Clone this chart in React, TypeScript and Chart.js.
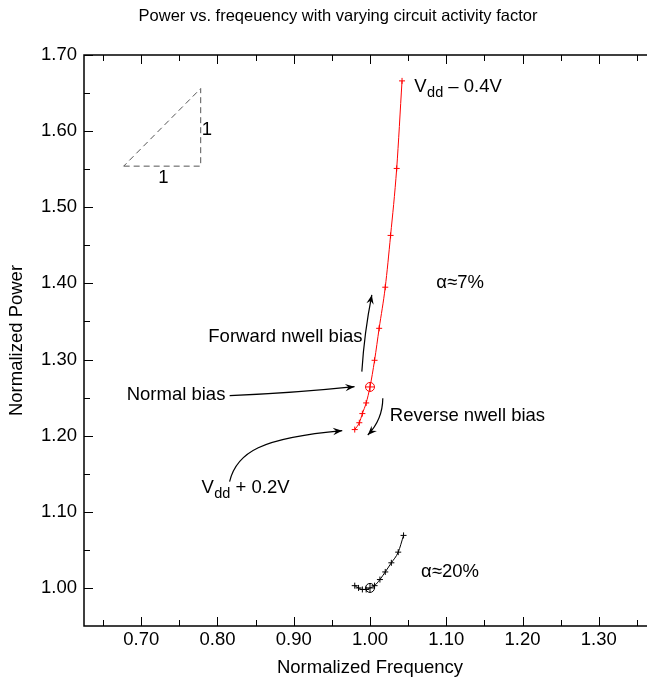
import React, { useEffect, useRef } from "react";
import { Chart, registerables } from "chart.js";

Chart.register(...registerables);

// ---------- text ----------
const chartTitle = "Power vs. freqeuency with varying circuit activity factor";
const xAxisTitle = "Normalized Frequency";
const yAxisTitle = "Normalized Power";

// ---------- axes ----------
const xRange = [0.625, 1.375];
const yRange = [0.95, 1.7];
const xTicks = [0.7, 0.8, 0.9, 1.0, 1.1, 1.2, 1.3];
const xMinorTicks = [0.65, 0.75, 0.85, 0.95, 1.05, 1.15, 1.25, 1.35];
const yTicks = [1.0, 1.1, 1.2, 1.3, 1.4, 1.5, 1.6, 1.7];
const yMinorTicks = [1.05, 1.15, 1.25, 1.35, 1.45, 1.55, 1.65];

// ---------- series: activity factor ~7% (red) ----------
const freqA7 = [0.980, 0.986, 0.990, 0.995, 1.000, 1.006, 1.012, 1.020, 1.027, 1.035, 1.042];
const powerA7 = [1.208, 1.217, 1.229, 1.243, 1.264, 1.299, 1.341, 1.395, 1.463, 1.551, 1.666];

// ---------- series: activity factor ~20% (black) ----------
const freqA20 = [0.980, 0.985, 0.990, 0.995, 1.000, 1.006, 1.013, 1.020, 1.028, 1.037, 1.044];
const powerA20 = [1.003, 1.000, 0.998, 0.998, 1.000, 1.003, 1.011, 1.021, 1.033, 1.047, 1.069];

const normalBiasIndex = 4;

// ---------- 1:1 slope triangle ----------
const triX = [0.677, 0.778, 0.778, 0.677];
const triY = [1.554, 1.554, 1.656, 1.554];

// ---------- annotations (data coordinates) ----------
const notes = [
  { text: "Forward nwell bias", x: 0.788, y: 1.330, align: "left" },
  { text: "Normal bias", x: 0.681, y: 1.2535, align: "left" },
  { text: "Reverse nwell bias", x: 1.026, y: 1.226, align: "left" },
  { text: "α≈7%", x: 1.087, y: 1.400, align: "left" },
  { text: "α≈20%", x: 1.067, y: 1.021, align: "left" },
  { text: "1", x: 0.729, y: 1.539, align: "center" },
  { text: "1", x: 0.786, y: 1.602, align: "center" },
];
const vddNotes = [
  { main: "V", sub: "dd", rest: " \u2013 0.4V", x: 1.058, y: 1.658 },
  { main: "V", sub: "dd", rest: " + 0.2V", x: 0.779, y: 1.131 },
];
// arrows: start, control(s), end
const arrows = [
  { pts: [[0.816, 1.2526], [0.90, 1.256], [0.9797, 1.2644]] },
  { pts: [[0.9893, 1.2841], [0.9925, 1.335], [1.0024, 1.3848]] },
  { pts: [[1.0168, 1.2491], [1.0165, 1.221], [0.9971, 1.2009]] },
  { pts: [[0.8159, 1.1396], [0.825, 1.1786], [0.8578, 1.197], [0.9636, 1.2066]] },
];

const FONT = "'Liberation Sans', Arial, Helvetica, sans-serif";

export default function App() {
  const ref = useRef<HTMLCanvasElement>(null);

  useEffect(() => {
    const canvas = ref.current;
    if (!canvas) return;

    const decorPlugin = {
      id: "decor",
      afterDraw(chart: any) {
        const { ctx, chartArea: a } = chart;
        const sx = chart.scales.x;
        const sy = chart.scales.y;
        const X = (v: number) => sx.getPixelForValue(v);
        const Y = (v: number) => sy.getPixelForValue(v);
        ctx.save();

        // frame
        ctx.strokeStyle = "#000";
        ctx.lineWidth = 1.5;
        ctx.strokeRect(a.left, a.top, a.right - a.left, a.bottom - a.top);

        // inward ticks
        ctx.lineWidth = 1;
        ctx.beginPath();
        const tickX = (v: number, len: number) => {
          const p = Math.round(X(v)) + 0.5;
          ctx.moveTo(p, a.bottom); ctx.lineTo(p, a.bottom - len);
          ctx.moveTo(p, a.top); ctx.lineTo(p, a.top + len);
        };
        const tickY = (v: number, len: number) => {
          const p = Math.round(Y(v)) + 0.5;
          ctx.moveTo(a.left, p); ctx.lineTo(a.left + len, p);
          ctx.moveTo(a.right, p); ctx.lineTo(a.right - len, p);
        };
        xTicks.forEach((v) => tickX(v, 9));
        xMinorTicks.forEach((v) => tickX(v, 6));
        yTicks.forEach((v) => tickY(v, 9));
        yMinorTicks.forEach((v) => tickY(v, 6));
        ctx.stroke();

        // titles
        ctx.fillStyle = "#000";
        ctx.textBaseline = "middle";
        ctx.textAlign = "center";
        ctx.font = `16.5px ${FONT}`;
        ctx.fillText(chartTitle, 338, 16);
        ctx.font = `18.5px ${FONT}`;
        ctx.fillText(xAxisTitle, (a.left + a.right) / 2, 668);
        ctx.save();
        ctx.translate(17, (a.top + a.bottom) / 2);
        ctx.rotate(-Math.PI / 2);
        ctx.fillText(yAxisTitle, 0, 0);
        ctx.restore();

        // annotations
        notes.forEach((n) => {
          ctx.textAlign = n.align as CanvasTextAlign;
          ctx.font = `18.5px ${FONT}`;
          ctx.fillText(n.text, X(n.x), Y(n.y));
        });
        vddNotes.forEach((n) => {
          ctx.textAlign = "left";
          let x = X(n.x);
          const y = Y(n.y);
          ctx.font = `18.5px ${FONT}`;
          ctx.fillText(n.main, x, y);
          x += ctx.measureText(n.main).width + 0.5;
          ctx.font = `14.5px ${FONT}`;
          ctx.fillText(n.sub, x, y + 6);
          x += ctx.measureText(n.sub).width;
          ctx.font = `18.5px ${FONT}`;
          ctx.fillText(n.rest, x, y);
        });

        // arrows
        ctx.strokeStyle = "#000";
        ctx.lineWidth = 1.2;
        arrows.forEach((ar) => {
          const p = ar.pts.map(([vx, vy]) => [X(vx), Y(vy)]);
          ctx.beginPath();
          ctx.moveTo(p[0][0], p[0][1]);
          if (p.length === 3) ctx.quadraticCurveTo(p[1][0], p[1][1], p[2][0], p[2][1]);
          else ctx.bezierCurveTo(p[1][0], p[1][1], p[2][0], p[2][1], p[3][0], p[3][1]);
          ctx.stroke();
          const end = p[p.length - 1];
          const prev = p[p.length - 2];
          const ang = Math.atan2(end[1] - prev[1], end[0] - prev[0]);
          const L = 10;
          const w = 0.38;
          ctx.beginPath();
          ctx.moveTo(end[0], end[1]);
          ctx.lineTo(end[0] - L * Math.cos(ang - w), end[1] - L * Math.sin(ang - w));
          ctx.lineTo(end[0] - L * 0.6 * Math.cos(ang), end[1] - L * 0.6 * Math.sin(ang));
          ctx.lineTo(end[0] - L * Math.cos(ang + w), end[1] - L * Math.sin(ang + w));
          ctx.closePath();
          ctx.fillStyle = "#000";
          ctx.fill();
        });

        ctx.restore();
      },
    };

    const radii = (n: number) => Array.from({ length: n }, (_, i) => (i === normalBiasIndex ? 4.5 : 3));

    const chart = new Chart(canvas, {
      type: "scatter",
      data: {
        datasets: [
          {
            data: triX.map((x, i) => ({ x, y: triY[i] })),
            showLine: true,
            borderColor: "#555",
            borderWidth: 1,
            borderDash: [6, 4],
            pointRadius: 0,
            tension: 0,
          },
          {
            data: freqA7.map((x, i) => ({ x, y: powerA7[i] })),
            showLine: true,
            borderColor: "#ff0000",
            borderWidth: 1,
            pointStyle: "cross",
            pointRadius: radii(freqA7.length),
            pointBorderColor: "#ff0000",
            pointBorderWidth: 1,
            cubicInterpolationMode: "monotone",
          },
          {
            data: [{ x: freqA7[normalBiasIndex], y: powerA7[normalBiasIndex] }],
            pointStyle: "circle",
            pointRadius: 4.5,
            pointBorderColor: "#ff0000",
            pointBackgroundColor: "rgba(0,0,0,0)",
            pointBorderWidth: 1,
          },
          {
            data: freqA20.map((x, i) => ({ x, y: powerA20[i] })),
            showLine: true,
            borderColor: "#000",
            borderWidth: 1,
            pointStyle: "cross",
            pointRadius: radii(freqA20.length),
            pointBorderColor: "#000",
            pointBorderWidth: 1,
            cubicInterpolationMode: "monotone",
          },
          {
            data: [{ x: freqA20[normalBiasIndex], y: powerA20[normalBiasIndex] }],
            pointStyle: "circle",
            pointRadius: 4.5,
            pointBorderColor: "#000",
            pointBackgroundColor: "rgba(0,0,0,0)",
            pointBorderWidth: 1,
          },
        ],
      } as any,
      options: {
        animation: false,
        responsive: false,
        devicePixelRatio: 1,
        layout: { padding: { top: 55, right: 24, bottom: 0, left: 0 } },
        plugins: { legend: { display: false }, tooltip: { enabled: false }, title: { display: false } },
        elements: { point: { hoverRadius: 3 } },
        scales: {
          x: {
            type: "linear",
            min: xRange[0],
            max: xRange[1],
            afterBuildTicks: (s: any) => { s.ticks = xTicks.map((v) => ({ value: v })); },
            afterFit: (s: any) => { s.height = 59; },
            ticks: {
              callback: (v: any) => Number(v).toFixed(2),
              font: { family: FONT, size: 18.5 },
              color: "#000",
              padding: 3,
              maxRotation: 0,
              autoSkip: false,
            },
            grid: { display: false, drawTicks: false },
            border: { display: false },
          },
          y: {
            type: "linear",
            min: yRange[0],
            max: yRange[1],
            afterBuildTicks: (s: any) => { s.ticks = yTicks.map((v) => ({ value: v })); },
            afterFit: (s: any) => { s.width = 84; },
            ticks: {
              callback: (v: any) => Number(v).toFixed(2),
              font: { family: FONT, size: 18.5 },
              color: "#000",
              padding: 7,
              autoSkip: false,
            },
            grid: { display: false, drawTicks: false },
            border: { display: false },
          },
        },
      } as any,
      plugins: [decorPlugin],
    });

    return () => chart.destroy();
  }, []);

  return (
    <div
      style={{
        position: "fixed",
        left: 0,
        top: 0,
        width: 647,
        height: 685,
        overflow: "hidden",
        background: "#fff",
      }}
    >
      <canvas ref={ref} width={680} height={685} style={{ display: "block" }} />
    </div>
  );
}
